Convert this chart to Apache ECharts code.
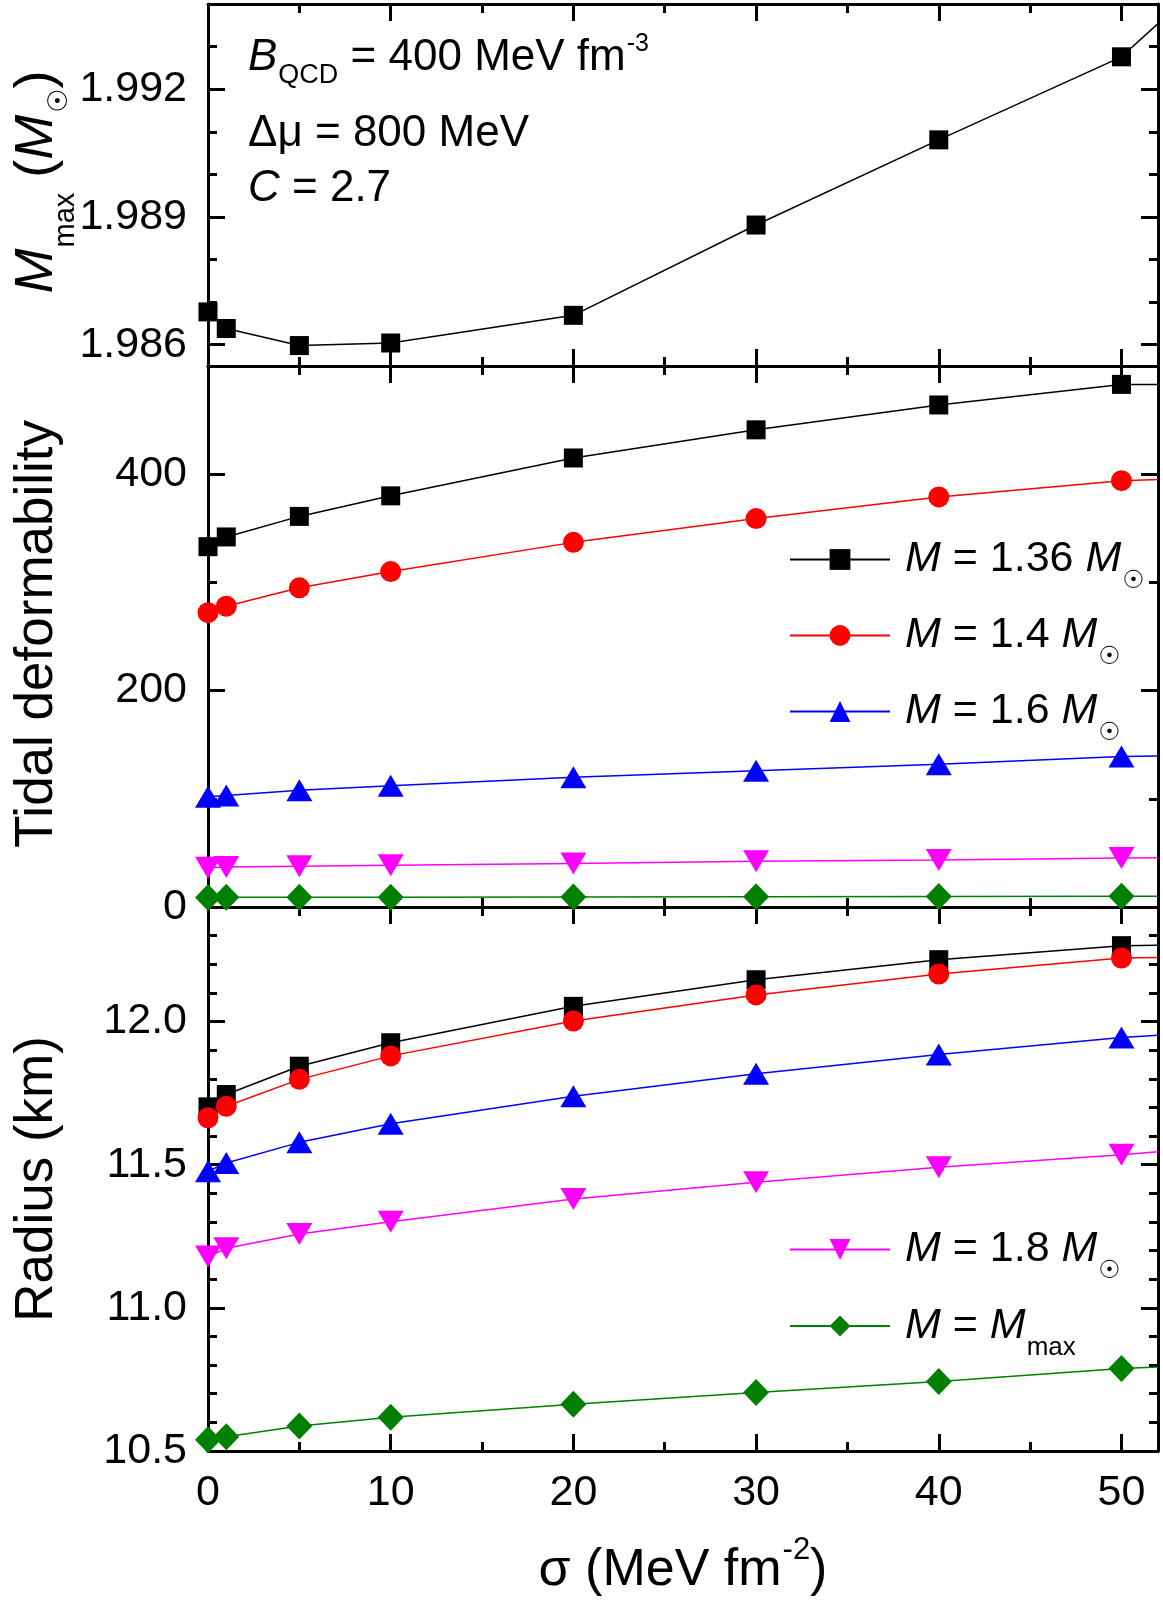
<!DOCTYPE html>
<html>
<head>
<meta charset="utf-8">
<script src="https://cdn.jsdelivr.net/npm/echarts@6/dist/echarts.min.js"></script>
<style>
html,body{margin:0;padding:0;background:#fff;}
#chart{width:1163px;height:1600px;}
</style>
</head>
<body>
<div id="chart"></div>
<script>
// ---------------- data ----------------
const sigma = [0, 1, 5, 10, 20, 30, 40, 50];
const sigmaEdge = 52;            // right frame, where the lines leave the plot

const mmax = [1.98677, 1.98638, 1.98598, 1.98604, 1.98669, 1.98881, 1.99081, 1.99276];
const mmaxEdge = 1.99354;

const tidal136 = [333, 342, 361, 380, 415, 441, 464, 483];
const tidal14  = [272, 278, 295, 310, 337, 359, 379, 394];
const tidal16  = [102, 103, 108, 112, 120, 126, 132, 139];
const tidal18  = [36.3, 37.0, 37.6, 38.6, 40.2, 42.2, 43.5, 45.2];
const tidalMax = [8.8, 8.9, 9.0, 9.1, 9.3, 9.5, 9.7, 10.0];
const tidalEdge = [483, 395, 139.5, 45.5, 10.0];

const radius136 = [11.702, 11.745, 11.844, 11.926, 12.053, 12.146, 12.216, 12.265];
const radius14  = [11.664, 11.704, 11.798, 11.880, 12.002, 12.093, 12.166, 12.222];
const radius16  = [11.477, 11.506, 11.578, 11.643, 11.739, 11.818, 11.885, 11.944];
const radius18  = [11.179, 11.208, 11.258, 11.301, 11.380, 11.439, 11.491, 11.535];
const radiusMax = [10.539, 10.550, 10.587, 10.618, 10.663, 10.704, 10.743, 10.788];
const radiusEdge = [12.266, 12.224, 11.952, 11.545, 10.793];

const xMajorTicks = [0, 10, 20, 30, 40, 50];
const xMinorTicks = [5, 15, 25, 35, 45];
const mmaxMajorTicks = [1.986, 1.989, 1.992];
const mmaxMinorTicks = [1.987, 1.988, 1.990, 1.991, 1.993];
const tidalMajorTicks = [0, 200, 400];
const tidalMinorTicks = [100, 300];
const radiusMajorTicks = [10.5, 11.0, 11.5, 12.0];
const radiusMinorTicks = [10.6, 10.7, 10.8, 10.9, 11.1, 11.2, 11.3, 11.4, 11.6, 11.7, 11.8, 11.9, 12.1, 12.2, 12.3];

const legendNames = ['M = 1.36 Msun', 'M = 1.4 Msun', 'M = 1.6 Msun', 'M = 1.8 Msun', 'M = Mmax'];
const legendText = {
  'M = 1.36 Msun': '{m0|M}{t| = 1.36 }{m|M}{sun|☉}',
  'M = 1.4 Msun':  '{m0|M}{t| = 1.4 }{m|M}{sun|☉}',
  'M = 1.6 Msun':  '{m0|M}{t| = 1.6 }{m|M}{sun|☉}',
  'M = 1.8 Msun':  '{m0|M}{t| = 1.8 }{m|M}{sun|☉}',
  'M = Mmax':      '{m0|M}{t| = }{m|M}{sub|max}'
};

// ---------------- layout / style ----------------
const FONT = "'Liberation Sans', Arial, Helvetica, sans-serif";
const SUNFONT = "'DejaVu Sans', sans-serif";
const grids = [
  {left: 208, right: 5, top: 4,   height: 362, outerBoundsMode: 'none'},
  {left: 208, right: 5, top: 366, height: 541, outerBoundsMode: 'none'},
  {left: 208, right: 5, top: 907, height: 544, outerBoundsMode: 'none'}
];

const xAxes = [], yAxes = [];
function mkAxis(grid, pos, min, max, ticks, len, showLine, showLabels, fmt) {
  return {
    type: 'value', gridIndex: grid, position: pos, min: min, max: max,
    splitLine: {show: false},
    axisLine: {show: showLine, onZero: false, lineStyle: {color: '#000', width: 3}},
    axisTick: {show: true, inside: true, length: len, customValues: ticks,
               lineStyle: {color: '#000', width: 3}},
    axisLabel: showLabels ? {show: true, customValues: ticks, formatter: fmt,
               fontSize: 43, fontFamily: FONT, color: '#000', margin: 21} : {show: false},
    minorTick: {show: false}
  };
}
function add(list, a) { list.push(a); return list.length - 1; }

const panels = [
  {min: 1.9855, max: 1.994, major: mmaxMajorTicks, minor: mmaxMinorTicks, fmt: v => v.toFixed(3), xLabels: false},
  {min: 0, max: 500, major: tidalMajorTicks, minor: tidalMinorTicks, fmt: v => String(v), xLabels: false},
  {min: 10.5, max: 12.4, major: radiusMajorTicks, minor: radiusMinorTicks, fmt: v => v.toFixed(1), xLabels: true}
];
const axisIdx = panels.map((p, g) => {
  const xi = add(xAxes, mkAxis(g, 'bottom', 0, sigmaEdge, xMajorTicks, 17, true, p.xLabels, v => String(v)));
  add(xAxes, mkAxis(g, 'bottom', 0, sigmaEdge, xMinorTicks, 9, false, false));
  add(xAxes, mkAxis(g, 'top', 0, sigmaEdge, xMajorTicks, 17, true, false));
  add(xAxes, mkAxis(g, 'top', 0, sigmaEdge, xMinorTicks, 9, false, false));
  const yi = add(yAxes, mkAxis(g, 'left', p.min, p.max, p.major, 17, true, true, p.fmt));
  add(yAxes, mkAxis(g, 'left', p.min, p.max, p.minor, 9, false, false));
  add(yAxes, mkAxis(g, 'right', p.min, p.max, p.major, 17, true, false));
  add(yAxes, mkAxis(g, 'right', p.min, p.max, p.minor, 9, false, false));
  return {x: xi, y: yi};
});

const styles = [
  {color: '#000000', symbol: 'rect', size: 19, rotate: 0},
  {color: '#FF0000', symbol: 'circle', size: 21, rotate: 0},
  {color: '#0000FF', symbol: 'triangle', size: [26, 22], rotate: 0},
  {color: '#FF00FF', symbol: 'triangle', size: [26, 22], rotate: 180},
  {color: '#008000', symbol: 'diamond', size: [26, 27], rotate: 0}
];

function mkSeries(name, st, panel, values, edge) {
  const data = sigma.map((s, i) => [s, values[i]]);
  data.push({value: [sigmaEdge, edge], symbol: 'none'});
  return {
    type: 'line', name: name,
    xAxisIndex: axisIdx[panel].x, yAxisIndex: axisIdx[panel].y,
    data: data, symbol: st.symbol, symbolSize: st.size, symbolRotate: st.rotate,
    itemStyle: {color: st.color}, lineStyle: {color: st.color, width: 1.5},
    color: st.color, clip: true, emphasis: {disabled: true}
  };
}

const tidalSets = [tidal136, tidal14, tidal16, tidal18, tidalMax];
const radiusSets = [radius136, radius14, radius16, radius18, radiusMax];
const series = [mkSeries('Mmax curve', styles[0], 0, mmax, mmaxEdge)];
tidalSets.forEach((v, i) => series.push(mkSeries(legendNames[i], styles[i], 1, v, tidalEdge[i])));
radiusSets.forEach((v, i) => series.push(mkSeries(legendNames[i], styles[i], 2, v, radiusEdge[i])));

function tok(size, extra) {
  return Object.assign({fontSize: size, fontFamily: FONT, fontStyle: 'normal', color: '#000'}, extra || {});
}
const legendRich = {
  m0: tok(43, {fontStyle: 'italic', padding: [0, 0, 0, 10]}),
  m: tok(43, {fontStyle: 'italic'}),
  t: tok(43),
  sun: tok(25, {fontFamily: SUNFONT, lineHeight: 20, padding: [44, 0, 0, 1]}),
  sub: tok(26, {lineHeight: 20, padding: [44, 0, 0, 1]})
};
function mkLegend(names, top) {
  return {
    data: names, orient: 'vertical', left: 789, top: top, padding: 0,
    itemWidth: 100, itemHeight: 26, itemGap: 7, selectedMode: false,
    formatter: n => legendText[n],
    textStyle: {fontSize: 43, fontFamily: FONT, color: '#000', lineHeight: 60, rich: legendRich}
  };
}

// raw zrender rich token (graphic component)
function g(size, extra) {
  return Object.assign({fontSize: size, fontFamily: FONT, fontStyle: 'normal', fill: '#000'}, extra || {});
}
function gText(x, y, text, rich, baseSize, rotation, align) {
  return {
    type: 'text', x: x, y: y, rotation: rotation || 0, silent: true,
    style: {text: text, rich: rich, fontSize: baseSize, fontFamily: FONT, fill: '#000',
            lineHeight: Math.round(baseSize * 1.3),
            align: align || 'left', verticalAlign: 'middle',
            textAlign: align || 'left', textVerticalAlign: 'middle'}
  };
}
const annRich = {
  bi: g(44, {fontStyle: 'italic'}),
  t: g(44),
  sub: g(27, {lineHeight: 20, padding: [36, 0, 0, 1]}),
  sup: g(25, {lineHeight: 20, padding: [0, 0, 28, 1]})
};
const titleRich = {
  m: g(54, {fontStyle: 'italic'}),
  t: g(54),
  sub: g(29, {lineHeight: 20, padding: [58, 0, 0, 1]}),
  sun: g(27, {fontFamily: SUNFONT, lineHeight: 20, padding: [46, 0, 0, 2]})
};
const titleRich2 = {
  t: g(53)
};
const xTitleRich = {
  t: g(52),
  sup: g(31, {lineHeight: 20, padding: [0, 0, 42, 1]})
};

const graphics = [
  gText(248, 58, '{bi|B}{sub|QCD}{t| = 400 MeV fm}{sup|-3}', annRich, 44),
  gText(248, 134, '{t|Δμ = 800 MeV}', annRich, 44),
  gText(248, 189, '{bi|C}{t| = 2.7}', annRich, 44),
  gText(37, 182, '{m|M}{sub|max}{t| (}{m|M}{sun|☉}{t|)}', titleRich, 54, Math.PI / 2, 'center'),
  gText(37, 634, '{t|Tidal deformability}', titleRich2, 53, Math.PI / 2, 'center'),
  gText(37, 1179, '{t|Radius (km)}', titleRich2, 53, Math.PI / 2, 'center'),
  gText(683, 1571, '{t|σ (MeV fm}{sup|-2}{t|)}', xTitleRich, 52, 0, 'center')
];

const chart = echarts.init(document.getElementById('chart'), null, {renderer: 'canvas'});
chart.setOption({
  animation: false,
  backgroundColor: '#ffffff',
  grid: grids,
  xAxis: xAxes,
  yAxis: yAxes,
  legend: [mkLegend(legendNames.slice(0, 3), 525), mkLegend(legendNames.slice(3), 1215)],
  series: series,
  graphic: graphics
});
</script>
</body>
</html>
